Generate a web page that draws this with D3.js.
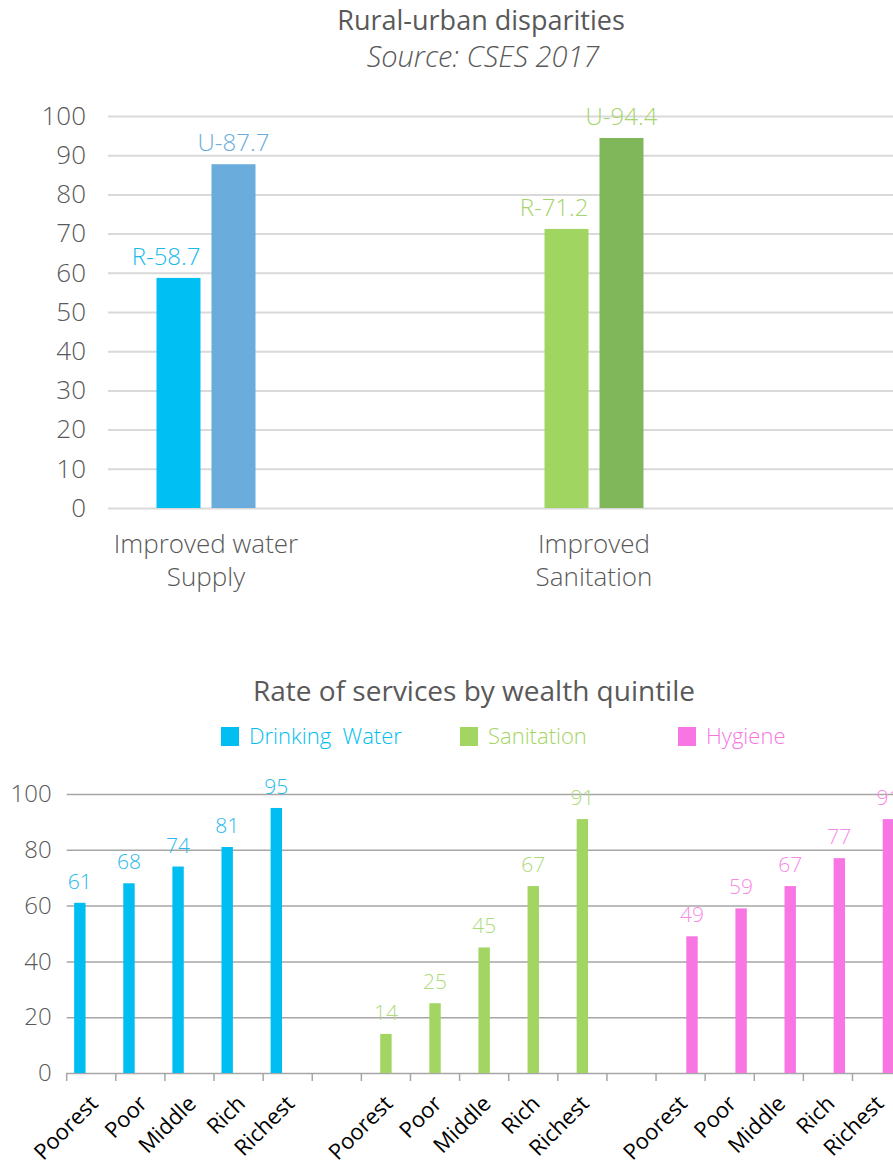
<!DOCTYPE html>
<html>
<head>
<meta charset="utf-8">
<script src="https://cdn.jsdelivr.net/npm/d3@7"></script>
<style>
  html, body { margin: 0; padding: 0; background: #fff; }
  svg { display: block; font-family: "Open Sans", "Noto Sans", sans-serif; }
</style>
</head>
<body>
<svg id="chart" width="893" height="1167"></svg>
<script>
// ---- Rural-urban disparities (CSES 2017) ----
const topCategories = ["Improved water Supply", "Improved Sanitation"];
const topCategoryLines = [["Improved water", "Supply"], ["Improved", "Sanitation"]];
const topRural = [58.7, 71.2];
const topUrban = [87.7, 94.4];
const topTicks = [0, 10, 20, 30, 40, 50, 60, 70, 80, 90, 100];

// ---- Rate of services by wealth quintile ----
const quintiles = ["Poorest", "Poor", "Middle", "Rich", "Richest"];
const serviceNames = ["Drinking  Water", "Sanitation", "Hygiene"];
const drinkingWater = [61, 68, 74, 81, 95];
const sanitation = [14, 25, 45, 67, 91];
const hygiene = [49, 59, 67, 77, 91];
const bottomTicks = [0, 20, 40, 60, 80, 100];

const W = 893;
const svg = d3.select("#chart");
svg.append("rect").attr("width", W).attr("height", 1167).attr("fill", "#fff");

const textGray = "#595959";

// ================= Top chart =================
const topColors = {
  rural: ["#00bff3", "#a1d562"],
  urban: ["#6aaddc", "#7fb75a"],
  ruralLabel: ["#1ab9ea", "#a6d46c"],
  urbanLabel: ["#6aaddc", "#a6d46c"]
};

const yTop = d3.scaleLinear().domain([0, 100]).range([508, 116]);
const xTop = d3.scaleBand().domain(topCategories).range([12, 788]).paddingInner(0);
const innerTop = d3.scaleBand().domain(["R", "U"])
  .range([xTop.bandwidth() / 2 - 49.5, xTop.bandwidth() / 2 + 49.5])
  .paddingInner(0.2);

svg.append("text")
  .attr("x", 481).attr("y", 30)
  .attr("text-anchor", "middle")
  .attr("font-size", 27).attr("fill", textGray)
  .text("Rural-urban disparities");
svg.append("text")
  .attr("x", 483).attr("y", 67)
  .attr("text-anchor", "middle")
  .attr("font-size", 29).attr("font-style", "italic").attr("font-weight", 300)
  .attr("fill", textGray)
  .text("Source: CSES 2017");

const topAxis = svg.append("g")
  .attr("transform", "translate(108,0)")
  .call(d3.axisLeft(yTop).tickValues(topTicks).tickSize(-(W - 108)).tickPadding(22));
topAxis.select(".domain").remove();
topAxis.selectAll(".tick line").attr("stroke", "#d9d9d9").attr("stroke-width", 2);
topAxis.selectAll(".tick text")
  .attr("font-family", "Open Sans, sans-serif")
  .attr("font-size", 26).attr("font-weight", 300).attr("fill", textGray);

const topRows = topCategories.map((c, i) => ({
  cat: c, i, bars: [
    { key: "R", value: topRural[i], fill: topColors.rural[i], labelFill: topColors.ruralLabel[i], prefix: "R-" },
    { key: "U", value: topUrban[i], fill: topColors.urban[i], labelFill: topColors.urbanLabel[i], prefix: "U-" }
  ]
}));

const topGroups = svg.append("g").selectAll("g")
  .data(topRows).join("g")
  .attr("transform", d => `translate(${xTop(d.cat)},0)`);

topGroups.selectAll("rect")
  .data(d => d.bars).join("rect")
  .attr("x", d => innerTop(d.key))
  .attr("width", innerTop.bandwidth())
  .attr("y", d => yTop(d.value))
  .attr("height", d => yTop(0) - yTop(d.value))
  .attr("fill", d => d.fill);

// rural labels sit flush with the bar's right edge, urban labels are centred
topGroups.selectAll("text.val")
  .data(d => d.bars).join("text")
  .attr("class", "val")
  .attr("x", d => d.key === "R"
    ? innerTop(d.key) + innerTop.bandwidth()
    : innerTop(d.key) + innerTop.bandwidth() / 2)
  .attr("y", d => yTop(d.value) - 13)
  .attr("text-anchor", d => d.key === "R" ? "end" : "middle")
  .attr("font-size", 24).attr("font-weight", 300)
  .attr("fill", d => d.labelFill)
  .text(d => d.prefix + d.value);

topGroups.append("text")
  .attr("x", xTop.bandwidth() / 2)
  .attr("y", 553)
  .attr("text-anchor", "middle")
  .attr("font-size", 26).attr("font-weight", 300).attr("fill", textGray)
  .selectAll("tspan")
  .data(d => topCategoryLines[d.i]).join("tspan")
  .attr("x", xTop.bandwidth() / 2)
  .attr("dy", (d, j) => j === 0 ? 0 : 33)
  .text(d => d);

// ================= Bottom chart =================
const serviceColors = ["#00bef2", "#a2d561", "#f776e3"];
const serviceLabelColors = ["#29b9ea", "#addb7a", "#f78ae6"];
const serviceValues = [drinkingWater, sanitation, hygiene];

// categories: five quintiles per service with an empty slot between services
const bottomRows = [];
serviceNames.forEach((s, si) => {
  quintiles.forEach((q, qi) => {
    bottomRows.push({ key: s + "|" + q, label: q, series: s, si, value: serviceValues[si][qi] });
  });
  if (si < serviceNames.length - 1) bottomRows.push({ key: "gap" + si, label: "", series: null, si, value: null });
});

const yBot = d3.scaleLinear().domain([0, 100]).range([1073, 794]);
const xBot = d3.scaleBand().domain(bottomRows.map(d => d.key)).range([66.7, 901.6]);
const innerBot = d3.scaleBand().domain(serviceNames)
  .range([xBot.bandwidth() * 0.152, xBot.bandwidth() * 0.848]);

svg.append("text")
  .attr("x", 474).attr("y", 701)
  .attr("text-anchor", "middle")
  .attr("font-size", 28).attr("fill", textGray)
  .text("Rate of services by wealth quintile");

// legend
const legendX = [221, 460, 678];
const legend = svg.append("g").selectAll("g")
  .data(serviceNames).join("g")
  .attr("transform", (d, i) => `translate(${legendX[i]},727)`);
legend.append("rect")
  .attr("width", 18).attr("height", 19)
  .attr("fill", (d, i) => serviceColors[i]);
legend.append("text")
  .attr("x", 28).attr("y", 17)
  .attr("font-size", 22).attr("font-weight", 300)
  .style("white-space", "pre")
  .attr("fill", (d, i) => serviceColors[i])
  .text(d => d);

const botAxis = svg.append("g")
  .attr("transform", "translate(66.7,0)")
  .call(d3.axisLeft(yBot).tickValues(bottomTicks).tickSize(-(W - 66.7)).tickPadding(15));
botAxis.select(".domain").remove();
botAxis.selectAll(".tick line").attr("stroke", "#a6a6a6").attr("stroke-width", 1.5);
botAxis.selectAll(".tick text")
  .attr("font-family", "Open Sans, sans-serif")
  .attr("font-size", 24).attr("font-weight", 300).attr("fill", textGray);

// category tick marks on band edges
const edges = xBot.domain().map(k => xBot(k)).concat([xBot.range()[1]]);
svg.append("g").selectAll("line")
  .data(edges).join("line")
  .attr("x1", d => d).attr("x2", d => d)
  .attr("y1", yBot(0)).attr("y2", yBot(0) + 8)
  .attr("stroke", "#a6a6a6").attr("stroke-width", 1.5);

const dataRows = bottomRows.filter(d => d.series !== null);

svg.append("g").selectAll("rect")
  .data(dataRows).join("rect")
  .attr("x", d => xBot(d.key) + innerBot(d.series))
  .attr("width", innerBot.bandwidth())
  .attr("y", d => yBot(d.value))
  .attr("height", d => yBot(0) - yBot(d.value))
  .attr("fill", d => serviceColors[d.si]);

svg.append("g").selectAll("text")
  .data(dataRows).join("text")
  .attr("x", d => xBot(d.key) + innerBot(d.series) + innerBot.bandwidth() / 2)
  .attr("y", d => yBot(d.value) - 14)
  .attr("text-anchor", "middle")
  .attr("font-size", 21).attr("font-weight", 300)
  .attr("fill", d => serviceLabelColors[d.si])
  .text(d => d.value);

// rotated quintile labels
svg.append("g").selectAll("text")
  .data(dataRows).join("text")
  .attr("transform", d => `translate(${xBot(d.key) + xBot.bandwidth() / 2 + 8},${yBot(0) + 32}) rotate(-45)`)
  .attr("text-anchor", "end")
  .attr("font-size", 22)
  .attr("fill", "#000")
  .text(d => d.label);
</script>
</body>
</html>
